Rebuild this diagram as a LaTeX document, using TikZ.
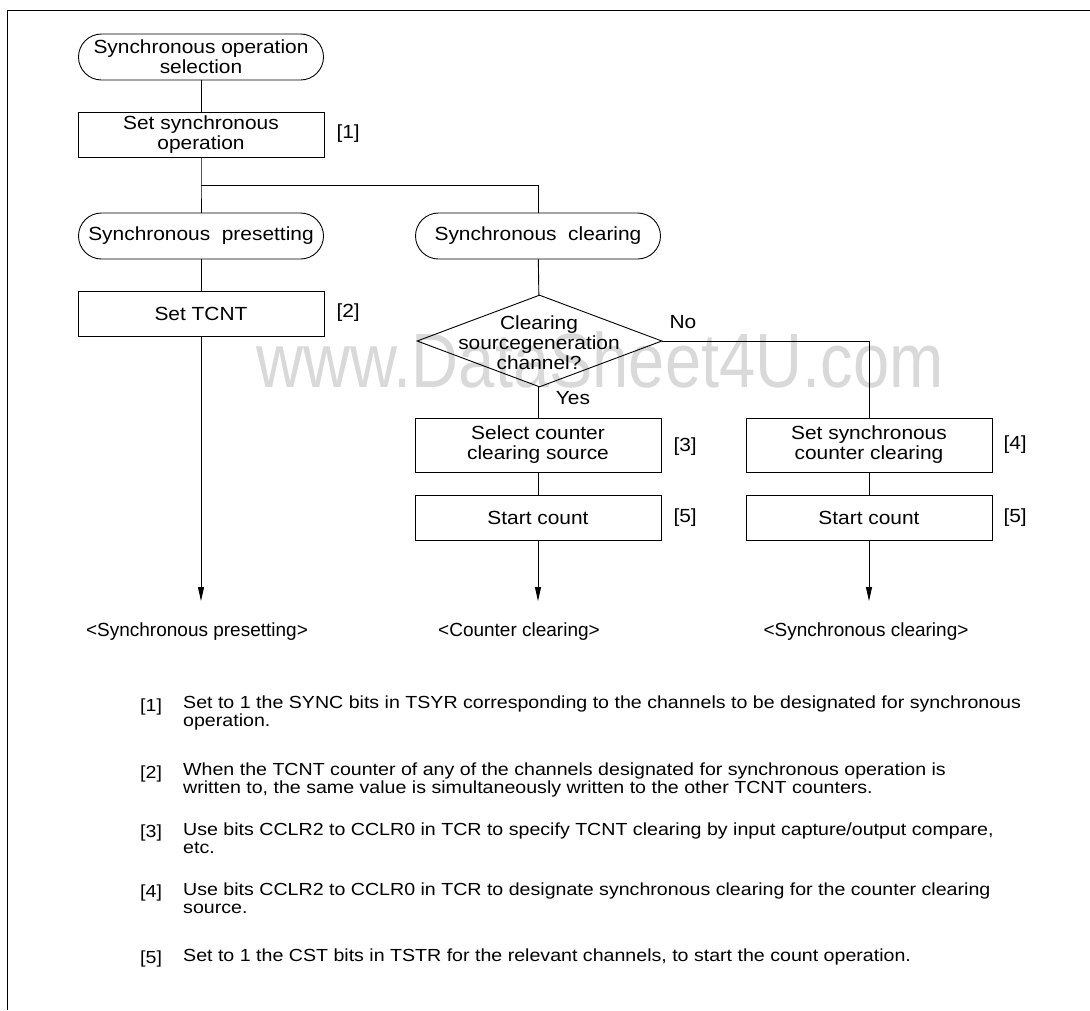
\documentclass[tikz,border=0pt]{standalone}
\usepackage{fontspec}
\setmainfont{Liberation Sans}
\newfontfamily\widefont{Liberation Sans}[FakeStretch=1.1]
\newfontfamily\notefont{Liberation Sans}[FakeStretch=1.12]
\usetikzlibrary{shapes.geometric,arrows.meta,calc}
\begin{document}
\begin{tikzpicture}[x=1pt,y=-1pt,
  every node/.style={font=\widefont\fontsize{19}{20}\selectfont},
  term/.style={draw,line width=0.9pt,rounded corners=23pt,minimum width=245pt,minimum height=46pt,align=center,inner sep=0pt},
  proc/.style={draw,line width=0.9pt,minimum width=246pt,minimum height=45pt,align=center,inner sep=0pt},
  proc2/.style={proc,minimum height=54pt},
  dec/.style={draw,line width=0.9pt,diamond,minimum width=245pt,minimum height=92pt,inner sep=0pt},
  ref/.style={anchor=west},
  outl/.style={font=\fontsize{19}{20}\selectfont},
  flow/.style={line width=0.9pt},
  arr/.style={line width=0.9pt,-{Stealth[length=14pt,width=6pt,inset=0pt]}},
  note/.style={font=\notefont\fontsize{17.5}{17.5}\selectfont,anchor=base west,align=left,inner sep=0pt},
  wm/.style={text=black!15,font=\fontsize{77}{77}\selectfont,inner sep=0pt}
]
\useasboundingbox (0,0) rectangle (1090,1010);
% watermark
\node[wm,anchor=base] (wmk) at (600,387) {\scalebox{0.845}[1]{www.DataSheet4U.com}};
% frame
\draw[line width=1pt] (7,1010) -- (7,10) -- (1090,10);

% flowchart
\node[term] (start) at (201,57) {Synchronous operation\\selection};
\node[proc] (set1) at (201,134.5) {Set synchronous\\operation};
\node[ref] (r1) at (333,134) {[1]};
\coordinate (j1) at (201,185);
\coordinate (j2) at (538,185);
\node[term] (pres) at (201,236) {Synchronous~ presetting};
\node[proc] (tcnt) at (201,313.5) {Set TCNT};
\node[ref] (r2) at (333,313) {[2]};
\node[term] (clr) at (538,236) {Synchronous~ clearing};
\node[dec] (dec) at (539.5,341) {};
\node[align=center,inner sep=0pt] (dect) at (539,343) {Clearing\\sourcegeneration\\channel?};
\node (no) at (683,322) {No};
\node (yes) at (573,398) {Yes};
\node[proc2] (sel) at (538,445) {Select counter\\clearing source};
\node[ref] (r3) at (670,447) {[3]};
\node[proc] (sc1) at (538,518) {Start count};
\node[ref] (r5a) at (670,518) {[5]};
\node[proc2] (ssc) at (869,445) {Set synchronous\\counter clearing};
\node[ref] (r4) at (1000,445) {[4]};
\node[proc] (sc2) at (869,518) {Start count};
\node[ref] (r5b) at (1000,518) {[5]};
\coordinate (c3) at (869,341);
\coordinate (e1) at (201,601);
\coordinate (e2) at (538,601);
\coordinate (e3) at (869,601);
\node[outl] (o1) at (197,632) {<Synchronous presetting>};
\node[outl] (o2) at (519,632) {<Counter clearing>};
\node[outl] (o3) at (866,632) {<Synchronous clearing>};

\draw[flow] (start) -- (set1);
\draw[flow] (set1) -- (j1) -- (pres);
\draw[flow] (j1) -- (j2) -- (clr);
\draw[flow] (pres) -- (tcnt);
\draw[arr] (tcnt) -- (e1);
\draw[flow] (clr) -- (dec);
\draw[flow] (dec.east) -- (c3) -- (ssc);
\draw[flow] (dec.south -| sel.north) -- (sel);
\draw[flow] (sel) -- (sc1);
\draw[arr] (sc1) -- (e2);
\draw[flow] (ssc) -- (sc2);
\draw[arr] (sc2) -- (e3);

% notes
\node[note] (n1l) at (140,711) {[1]};
\node[note] (n1) at (183,726) {Set to 1 the SYNC bits in TSYR corresponding to the channels to be designated for synchronous\\operation.};
\node[note] (n2l) at (140,778) {[2]};
\node[note] (n2) at (183,793) {When the TCNT counter of any of the channels designated for synchronous operation is\\written to, the same value is simultaneously written to the other TCNT counters.};
\node[note] (n3l) at (140,837) {[3]};
\node[note] (n3) at (183,853) {Use bits CCLR2 to CCLR0 in TCR to specify TCNT clearing by input capture/output compare,\\etc.};
\node[note] (n4l) at (140,897) {[4]};
\node[note] (n4) at (183,913) {Use bits CCLR2 to CCLR0 in TCR to designate synchronous clearing for the counter clearing\\source.};
\node[note] (n5l) at (140,963) {[5]};
\node[note] (n5) at (183,961) {Set to 1 the CST bits in TSTR for the relevant channels, to start the count operation.};
\end{tikzpicture}
\end{document}
